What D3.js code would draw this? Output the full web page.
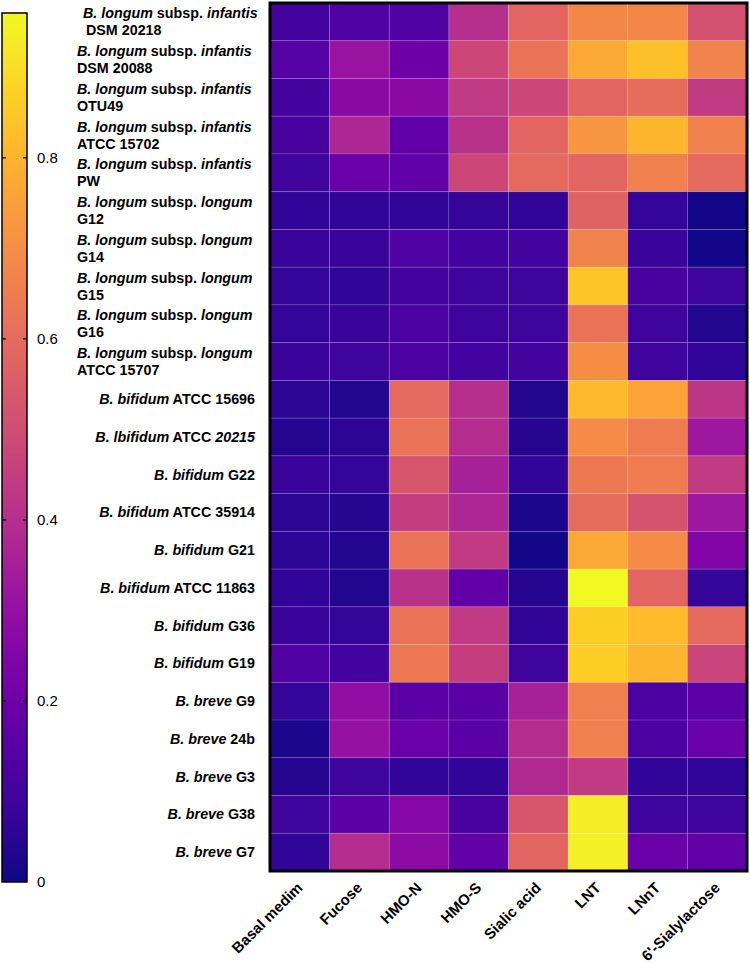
<!DOCTYPE html>
<html>
<head>
<meta charset="utf-8">
<script src="https://cdn.jsdelivr.net/npm/d3@7"></script>
<style>
  html, body { margin: 0; padding: 0; background: #fff; }
  svg { display: block; font-family: "Liberation Sans", Arial, Helvetica, sans-serif; }
</style>
</head>
<body>
<svg id="chart" width="750" height="964"></svg>
<script>
// ---------- DATA ----------
const columns = ["Basal medim", "Fucose", "HMO-N", "HMO-S", "Sialic acid", "LNT", "LNnT", "6'-Sialylactose"];

// Row labels: each line is a list of [text, italic] segments
const rowLabels = [
  [[["B. longum", true], [" subsp. ", false], ["infantis", true]], [["DSM 20218", false]]],
  [[["B. longum", true], [" subsp. ", false], ["infantis", true]], [["DSM 20088", false]]],
  [[["B. longum", true], [" subsp. ", false], ["infantis", true]], [["OTU49", false]]],
  [[["B. longum", true], [" subsp. ", false], ["infantis", true]], [["ATCC 15702", false]]],
  [[["B. longum", true], [" subsp. ", false], ["infantis", true]], [["PW", false]]],
  [[["B. longum", true], [" subsp. ", false], ["longum", true]], [["G12", false]]],
  [[["B. longum", true], [" subsp. ", false], ["longum", true]], [["G14", false]]],
  [[["B. longum", true], [" subsp. ", false], ["longum", true]], [["G15", false]]],
  [[["B. longum", true], [" subsp. ", false], ["longum", true]], [["G16", false]]],
  [[["B. longum", true], [" subsp. ", false], ["longum", true]], [["ATCC 15707", false]]],
  [[["B. bifidum", true], [" ATCC 15696", false]]],
  [[["B. lbifidum", true], [" ATCC ", false], ["20215", true]]],
  [[["B. bifidum", true], [" G22", false]]],
  [[["B. bifidum", true], [" ATCC 35914", false]]],
  [[["B. bifidum", true], [" G21", false]]],
  [[["B. bifidum", true], [" ATCC 11863", false]]],
  [[["B. bifidum", true], [" G36", false]]],
  [[["B. bifidum", true], [" G19", false]]],
  [[["B. breve", true], [" G9", false]]],
  [[["B. breve", true], [" 24b", false]]],
  [[["B. breve", true], [" G3", false]]],
  [[["B. breve", true], [" G38", false]]],
  [[["B. breve", true], [" G7", false]]]
];

// Values per row, in column order
const values = [
  [0.10, 0.13, 0.13, 0.40, 0.58, 0.68, 0.68, 0.51],
  [0.14, 0.31, 0.20, 0.48, 0.62, 0.77, 0.83, 0.67],
  [0.10, 0.27, 0.27, 0.44, 0.48, 0.58, 0.60, 0.44],
  [0.11, 0.37, 0.17, 0.41, 0.58, 0.72, 0.80, 0.66],
  [0.09, 0.19, 0.17, 0.48, 0.59, 0.58, 0.66, 0.59],
  [0.06, 0.06, 0.06, 0.07, 0.06, 0.57, 0.07, 0.01],
  [0.08, 0.08, 0.13, 0.10, 0.10, 0.67, 0.08, 0.01],
  [0.07, 0.06, 0.10, 0.09, 0.09, 0.84, 0.11, 0.09],
  [0.07, 0.08, 0.12, 0.09, 0.09, 0.62, 0.09, 0.03],
  [0.08, 0.09, 0.12, 0.10, 0.10, 0.70, 0.09, 0.06],
  [0.05, 0.03, 0.59, 0.40, 0.03, 0.81, 0.76, 0.42],
  [0.04, 0.05, 0.62, 0.39, 0.04, 0.69, 0.65, 0.32],
  [0.08, 0.07, 0.53, 0.35, 0.06, 0.64, 0.65, 0.44],
  [0.05, 0.04, 0.45, 0.37, 0.02, 0.60, 0.52, 0.32],
  [0.05, 0.03, 0.62, 0.44, 0.01, 0.77, 0.69, 0.25],
  [0.06, 0.03, 0.41, 0.17, 0.04, 0.96, 0.58, 0.07],
  [0.08, 0.07, 0.62, 0.44, 0.06, 0.86, 0.82, 0.59],
  [0.13, 0.10, 0.64, 0.45, 0.09, 0.86, 0.80, 0.47],
  [0.07, 0.29, 0.15, 0.15, 0.35, 0.66, 0.12, 0.16],
  [0.02, 0.30, 0.19, 0.15, 0.39, 0.66, 0.12, 0.19],
  [0.04, 0.09, 0.06, 0.06, 0.38, 0.44, 0.06, 0.06],
  [0.09, 0.15, 0.26, 0.11, 0.53, 0.93, 0.09, 0.09],
  [0.06, 0.39, 0.28, 0.17, 0.58, 0.94, 0.19, 0.17]
];

const colorDomain = [0, 0.96];
const colorTicks = [0, 0.2, 0.4, 0.6, 0.8];

// ---------- DRAW ----------
const svg = d3.select("#chart");
const color = d3.scaleSequential(d3.interpolatePlasma).domain(colorDomain);

const plot = { left: 270, right: 747, top: 3, bottom: 871 };
const rowIdx = d3.range(values.length);
const x = d3.scaleBand().domain(columns).range([plot.left, plot.right]);
const y = d3.scaleBand().domain(rowIdx).range([plot.top, plot.bottom]);

const cells = [];
values.forEach((row, r) => row.forEach((v, c) => cells.push({ r, c: columns[c], v })));

svg.append("g").selectAll("rect").data(cells).join("rect")
  .attr("x", d => x(d.c))
  .attr("y", d => y(d.r))
  .attr("width", x.bandwidth())
  .attr("height", y.bandwidth())
  .attr("fill", d => color(d.v))
  .attr("stroke", "rgba(255,255,255,0.16)")
  .attr("stroke-width", 0.8);

svg.append("rect")
  .attr("x", plot.left).attr("y", plot.top)
  .attr("width", plot.right - plot.left).attr("height", plot.bottom - plot.top)
  .attr("fill", "none").attr("stroke", "#000").attr("stroke-width", 3);

// Row labels
const labelG = svg.append("g").attr("font-size", 14.3).attr("font-weight", "bold").attr("fill", "#000");
rowLabels.forEach((lines, r) => {
  const cy = y(r) + y.bandwidth() / 2;
  if (lines.length === 2) {
    lines.forEach((segs, i) => {
      const lx = r === 0 ? (i === 0 ? 83 : 86) : 77;
      const t = labelG.append("text")
        .attr("x", lx)
        .attr("y", cy + (i === 0 ? -3.5 : 13.5))
        .attr("text-anchor", "start");
      segs.forEach(([txt, it]) => t.append("tspan").attr("font-style", it ? "italic" : "normal").text(txt));
    });
  } else {
    const t = labelG.append("text")
      .attr("x", 255)
      .attr("y", cy + 5)
      .attr("text-anchor", "end");
    lines[0].forEach(([txt, it]) => t.append("tspan").attr("font-style", it ? "italic" : "normal").text(txt));
  }
});

// Column labels
const xAxis = d3.axisBottom(x).tickSize(0).tickPadding(0);
const xg = svg.append("g").attr("transform", `translate(0,${plot.bottom + 14})`).call(xAxis);
xg.select(".domain").remove();
xg.selectAll("text")
  .attr("font-size", 15).attr("font-weight", "bold").attr("fill", "#000")
  .attr("font-family", '"Liberation Sans", Arial, sans-serif')
  .attr("text-anchor", "end")
  .attr("dy", "0.35em")
  .attr("transform", "rotate(-45)");

// Colorbar
const cb = { x: 2, w: 25, top: 13, bottom: 882 };
const cy = d3.scaleLinear().domain(colorDomain).range([cb.bottom, cb.top]);
const defs = svg.append("defs");
const grad = defs.append("linearGradient").attr("id", "cbgrad")
  .attr("x1", 0).attr("y1", 1).attr("x2", 0).attr("y2", 0);
d3.range(0, 1.0001, 0.05).forEach(t => {
  grad.append("stop").attr("offset", t).attr("stop-color", d3.interpolatePlasma(t));
});
svg.append("rect")
  .attr("x", cb.x).attr("y", cb.top).attr("width", cb.w).attr("height", cb.bottom - cb.top)
  .attr("fill", "url(#cbgrad)").attr("stroke", "#000").attr("stroke-width", 1.5);

const cbG = svg.append("g");
colorTicks.forEach(v => {
  if (v > 0) {
    cbG.append("line").attr("x1", cb.x).attr("x2", cb.x + 4).attr("y1", cy(v)).attr("y2", cy(v))
      .attr("stroke", "#000").attr("stroke-width", 1.2);
    cbG.append("line").attr("x1", cb.x + cb.w - 4).attr("x2", cb.x + cb.w).attr("y1", cy(v)).attr("y2", cy(v))
      .attr("stroke", "#000").attr("stroke-width", 1.2);
  }
  cbG.append("text").attr("x", 37).attr("y", cy(v)).attr("dy", "0.35em")
    .attr("font-size", 15).attr("fill", "#000")
    .text(v === 0 ? "0" : d3.format(".1f")(v));
});
</script>
</body>
</html>
